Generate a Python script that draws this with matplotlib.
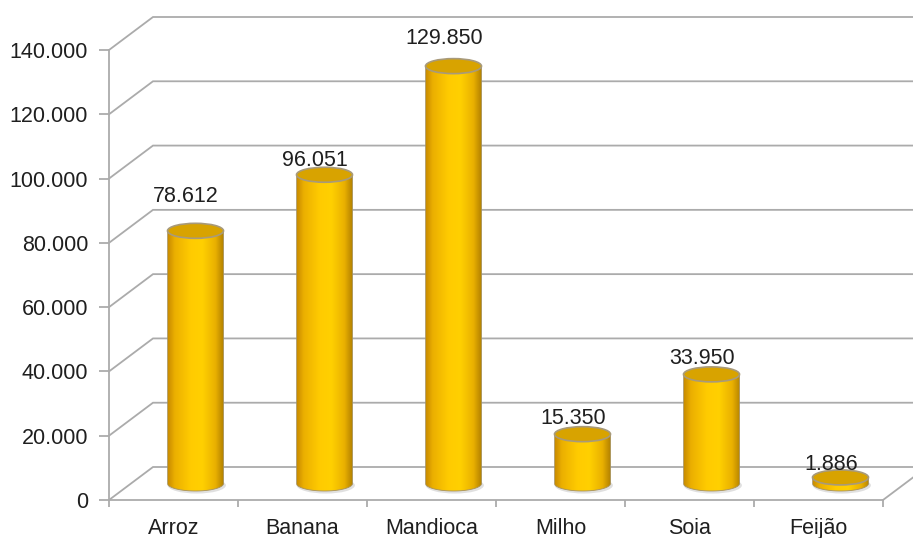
import numpy as np
import matplotlib
matplotlib.use("Agg")
import matplotlib.pyplot as plt
from matplotlib.path import Path
from matplotlib.patches import Ellipse, PathPatch
from matplotlib.colors import LinearSegmentedColormap

plt.rcParams['font.family'] = ['Liberation Sans', 'DejaVu Sans']

# Production by crop (tons)
categories = ["Arroz", "Banana", "Mandioca", "Milho", "Soia", "Feijão"]
values = [78612, 96051, 129850, 15350, 33950, 1886]
value_labels = ["78.612", "96.051", "129.850", "15.350", "33.950", "1.886"]
y_ticks = [0, 20000, 40000, 60000, 80000, 100000, 120000, 140000]
y_tick_labels = ["0", "20.000", "40.000", "60.000", "80.000", "100.000", "120.000", "140.000"]

# gap (px) between each value label and the top of its cylinder
label_gap_px = [21, 1, 15, 3, 3, 0]

W, H, DPI = 913, 538, 100
fig = plt.figure(figsize=(W / DPI, H / DPI), dpi=DPI)
ax = fig.add_axes([109 / W, 38 / H, 774 / W, 450 / H])
n = len(categories)
ax.set_xlim(-0.5, n - 0.5)
ax.set_ylim(0, 140000)

grid_col = "#ABABAB"
text_col = "#1f1f1f"
FS = 15.5

# oblique depth of the 3-D box, in pixels, converted into data units
DEPTH_PX = (44, 33)
px_x = ax.bbox.width / (n)          # pixels per category
px_y = ax.bbox.height / 140000.0    # pixels per unit value
dx = DEPTH_PX[0] / px_x
dy = DEPTH_PX[1] / px_y

x0, x1 = -0.5, n - 0.5
# walls: gridlines run from the front axis diagonally back, then along the back wall
for v in y_ticks:
    ax.plot([x0, x0 + dx, x1 + dx + 1], [v, v + dy, v + dy], color=grid_col,
            lw=1.3, clip_on=False, zorder=1, solid_joinstyle="miter")
# floor: right edge
ax.plot([x1, x1 + dx], [0, dy], color=grid_col, lw=1.3, clip_on=False, zorder=1)

for s in ["top", "right"]:
    ax.spines[s].set_visible(False)
for s in ["left", "bottom"]:
    ax.spines[s].set_color(grid_col)
    ax.spines[s].set_linewidth(1.3)

ax.set_yticks(y_ticks)
ax.set_yticklabels(y_tick_labels, fontsize=FS, color=text_col)
ax.tick_params(axis="y", length=7, width=1.3, color=grid_col, pad=8)
ax.set_xticks(np.arange(n + 1) - 0.5)
ax.set_xticklabels([])
ax.tick_params(axis="x", which="major", length=5, width=1.3, color=grid_col)
ax.set_xticks(np.arange(n), minor=True)
ax.set_xticklabels(categories, minor=True, fontsize=FS, color=text_col)
ax.tick_params(axis="x", which="minor", length=0, pad=13)

# cylinder geometry
cyl_w = 56 / px_x
ell_h = 15 / px_y
side_cmap = LinearSegmentedColormap.from_list(
    "gold_side",
    [(0.0, "#C98C00"), (0.12, "#EBAF00"), (0.4, "#FFCB00"), (0.62, "#FFD000"),
     (0.85, "#E9B000"), (1.0, "#B07F00")])
grad = np.linspace(0, 1, 256).reshape(1, -1)

for i, v in enumerate(values):
    cx = i + dx / 2
    base = dy / 2
    top = v + dy / 2
    xl, xr = cx - cyl_w / 2, cx + cyl_w / 2
    t = np.linspace(np.pi, 2 * np.pi, 60)
    arc = np.column_stack([cx + cyl_w / 2 * np.cos(t), base + ell_h / 2 * np.sin(t)])
    verts = np.vstack([[xl, top], arc, [xr, top], [xl, top]])
    codes = [Path.MOVETO] + [Path.LINETO] * (len(verts) - 2) + [Path.CLOSEPOLY]
    side_path = Path(verts, codes)

    # soft shadow on the floor
    ax.add_patch(Ellipse((cx + 0.01, base - ell_h * 0.12), cyl_w * 1.04, ell_h * 1.1,
                         facecolor="#000000", alpha=0.12, edgecolor="none",
                         zorder=2, clip_on=False))

    side = PathPatch(side_path, facecolor="none", edgecolor="#A8925A", lw=0.6,
                     zorder=4, clip_on=False)
    im = ax.imshow(grad, cmap=side_cmap, aspect="auto",
                   extent=[xl, xr, base - ell_h, top], zorder=3,
                   interpolation="bilinear")
    im.set_clip_path(PathPatch(side_path, transform=ax.transData))
    ax.add_patch(side)

    ax.add_patch(Ellipse((cx, top), cyl_w, ell_h, facecolor="#D8A300",
                         edgecolor="#A89A7A", lw=1.2, zorder=5, clip_on=False))

    ax.annotate(value_labels[i], xy=(cx, top),
                xytext=(-9.5 * 72 / DPI, (7.5 + label_gap_px[i]) * 72 / DPI),
                textcoords="offset points", ha="center", va="baseline",
                fontsize=FS, color=text_col, zorder=6, annotation_clip=False)

ax.set_xlim(-0.5, n - 0.5)
ax.set_ylim(0, 140000)
ax.patch.set_visible(False)

fig.savefig("out.png", dpi=DPI)
